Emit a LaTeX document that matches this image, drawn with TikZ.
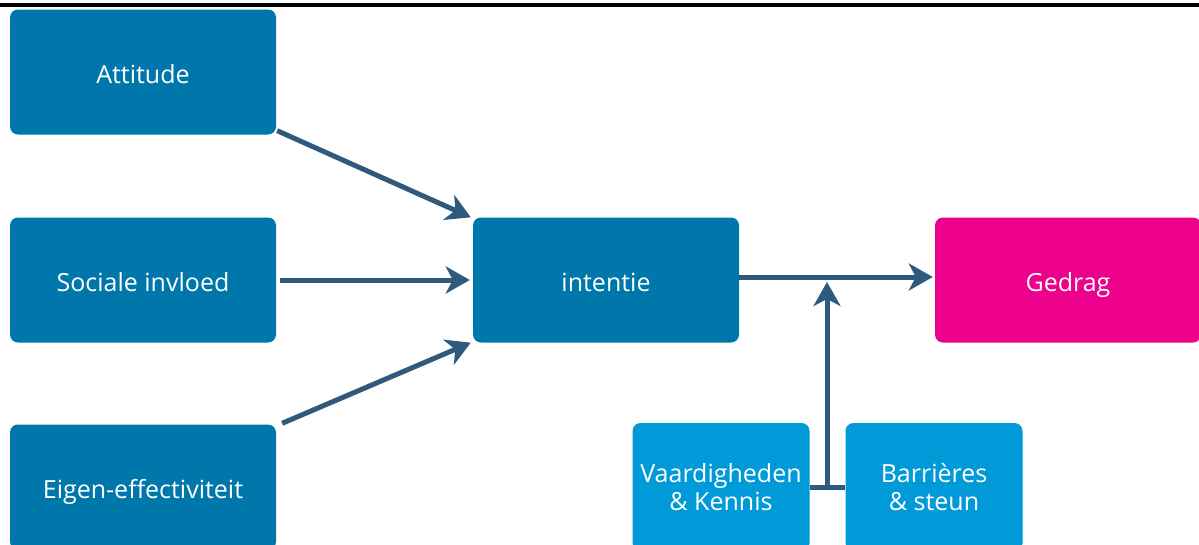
\documentclass[tikz,border=0pt]{standalone}
\usepackage{fontspec}
\setmainfont{Open Sans}
\usetikzlibrary{arrows.meta}
\definecolor{boxdark}{HTML}{0077AA}
\definecolor{boxlight}{HTML}{009AD9}
\definecolor{boxpink}{HTML}{EC008C}
\definecolor{arrowc}{HTML}{2F5A7E}
\newcommand{\boxtext}[1]{\raisebox{-11pt}[0pt][0pt]{#1}}
\begin{document}
\begin{tikzpicture}[x=1pt,y=-1pt,
  box/.style={rounded corners=8pt, minimum width=266pt, minimum height=125pt, inner sep=0pt,
    text=white, font=\fontsize{25}{28}\selectfont, fill=boxdark},
  smallbox/.style={rounded corners=8pt, minimum width=177pt, minimum height=128pt, inner sep=0pt,
    text=white, font=\fontsize{25}{28}\selectfont, align=center, fill=boxlight},
  conn/.style={draw=arrowc, line width=5pt},
  arr/.style={conn, -{Stealth[length=24pt,width=27pt,inset=7pt]}}]
\useasboundingbox (0,0) rectangle (1199,544);
\clip (0,0) rectangle (1199,544);
\fill[white] (0,0) rectangle (1199,544);
\fill[black] (0,3) rectangle (1199,6.5);
\node[box] (att) at (143,72) {\boxtext{Attitude}};
\node[box] (soc) at (143,280) {\boxtext{Sociale invloed}};
\node[box] (eig) at (143,487) {\boxtext{Eigen-effectiviteit}};
\node[box] (int) at (606,280) {\boxtext{intentie}};
\node[box, fill=boxpink] (ged) at (1068,280) {\boxtext{Gedrag}};
\node[smallbox] (vaa) at (721,487) {Vaardigheden\\\& Kennis};
\node[smallbox] (bar) at (934,487) {Barrières\\\& steun};
\coordinate (j) at (827,487);
\coordinate (t) at (827,282);
\draw[arr] ([xshift=1pt,yshift=4pt]att.south east) -- ([xshift=-2pt]int.north west);
\draw[arr] ([xshift=4pt]soc.east) -- ([xshift=-3pt]int.west);
\draw[arr] ([xshift=6pt,yshift=1pt]eig.north east) -- ([xshift=-2pt]int.south west);
\draw[arr] ([yshift=3pt]int.east) -- ([xshift=-2pt,yshift=3pt]ged.west);
\draw[conn] (vaa.east |- j) -- (bar.west |- j);
\draw[arr] (j) -- (t);
\end{tikzpicture}
\end{document}
